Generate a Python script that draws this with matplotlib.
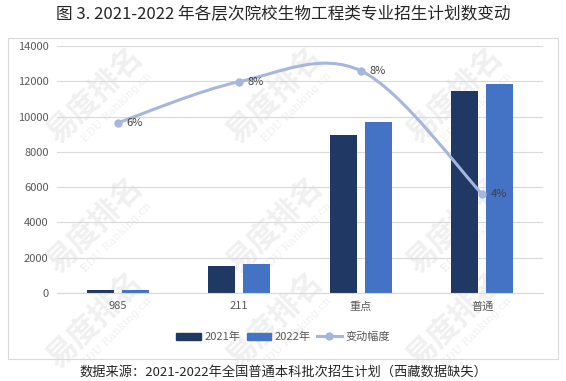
import matplotlib.pyplot as plt
import matplotlib.patches as mpatches
from matplotlib.path import Path
from matplotlib.lines import Line2D

plt.rcParams['font.family'] = ['Noto Sans CJK SC', 'DejaVu Sans']

categories = ['985', '211', '重点', '普通']
plan_2021 = [170, 1530, 8970, 11450]
plan_2022 = [180, 1630, 9700, 11860]
change_rate = [0.062, 0.077, 0.081, 0.036]
rate_labels = ['6%', '8%', '8%', '4%']

c2021 = '#203864'
c2022 = '#4472C4'
cline = '#A7B6DF'

fig = plt.figure(figsize=(5.66, 3.81), dpi=100)

# 水印
for wx in [95, 275, 455]:
    for wy in [95, 225, 320]:
        fig.text(wx / 566, 1 - wy / 381, '易度排名', rotation=45, fontsize=22,
                 color='#F0F0F0', ha='center', va='center', zorder=-5, fontweight='bold')
        fig.text((wx + 22) / 566, 1 - (wy + 12) / 381, 'EDU Ranking.cn', rotation=45,
                 fontsize=8, color='#F0F0F0', ha='center', va='center', zorder=-5,
                 family='DejaVu Serif')

# 外框
frame = mpatches.Rectangle((8 / 566, 1 - 359 / 381), 550 / 566, 321 / 381,
                           transform=fig.transFigure, fill=False,
                           edgecolor='#D9D9D9', linewidth=0.8)
fig.patches.append(frame)

ax = fig.add_axes([57 / 566, 1 - 293 / 381, 486 / 566, 247 / 381])
ax.patch.set_alpha(0)
x = list(range(len(categories)))
w = 0.22
off = 0.144
ax.bar([i - off for i in x], plan_2021, width=w, color=c2021, label='2021年', zorder=2)
ax.bar([i + off for i in x], plan_2022, width=w, color=c2022, label='2022年', zorder=2)
ax.set_xlim(-0.5, 3.5)
ax.set_ylim(0, 14000)
ax.set_yticks(range(0, 14001, 2000))
ax.set_xticks(x)
ax.set_xticklabels(categories)
ax.grid(axis='y', color='#D9D9D9', linewidth=0.8, zorder=0)
ax.set_axisbelow(True)
for s in ['top', 'right', 'left']:
    ax.spines[s].set_visible(False)
ax.spines['bottom'].set_color('#D9D9D9')
ax.tick_params(axis='both', length=0, labelsize=8, colors='#595959', pad=6)

# 次坐标轴（隐藏）画变动幅度曲线
ax2 = ax.twinx()
ax2.set_ylim(0, 0.09)
ax2.axis('off')

# 平滑曲线 (Catmull-Rom -> Bezier)
pts = list(zip(x, change_rate))
verts = [pts[0]]
codes = [Path.MOVETO]
for i in range(len(pts) - 1):
    p0 = pts[i - 1] if i > 0 else pts[i]
    p1 = pts[i]
    p2 = pts[i + 1]
    p3 = pts[i + 2] if i + 2 < len(pts) else pts[i + 1]
    c1 = (p1[0] + (p2[0] - p0[0]) / 6, p1[1] + (p2[1] - p0[1]) / 6)
    c2 = (p2[0] - (p3[0] - p1[0]) / 6, p2[1] - (p3[1] - p1[1]) / 6)
    verts += [c1, c2, p2]
    codes += [Path.CURVE4] * 3
ax2.add_patch(mpatches.PathPatch(Path(verts, codes), fill=False,
                                 edgecolor=cline, linewidth=2.2, zorder=3))
ax2.plot(x, change_rate, 'o', color=cline, markersize=5, zorder=4)
for xi, yi, t in zip(x, change_rate, rate_labels):
    ax2.annotate(t, (xi, yi), xytext=(6, 0), textcoords='offset points',
                 fontsize=8, color='#404040', va='center', ha='left')

handles = [mpatches.Patch(color=c2021, label='2021年'),
           mpatches.Patch(color=c2022, label='2022年'),
           Line2D([0], [0], color=cline, linewidth=2.2, marker='o', markersize=5, label='变动幅度')]
fig.legend(handles=handles, loc='center', bbox_to_anchor=(0.5, 1 - 337 / 381),
           ncol=3, frameon=False, fontsize=8, handlelength=2.2, handleheight=0.6,
           columnspacing=0.6, handletextpad=0.3, labelcolor='#595959')

fig.text(0.5, 1 - 15 / 381, '图 3. 2021-2022 年各层次院校生物工程类专业招生计划数变动',
         ha='center', va='center', fontsize=12, color='#262626')
fig.text(0.5, 1 - 372 / 381, '数据来源：2021-2022年全国普通本科批次招生计划（西藏数据缺失）',
         ha='center', va='center', fontsize=9.5, color='#262626')

fig.savefig('out.png', dpi=100)
